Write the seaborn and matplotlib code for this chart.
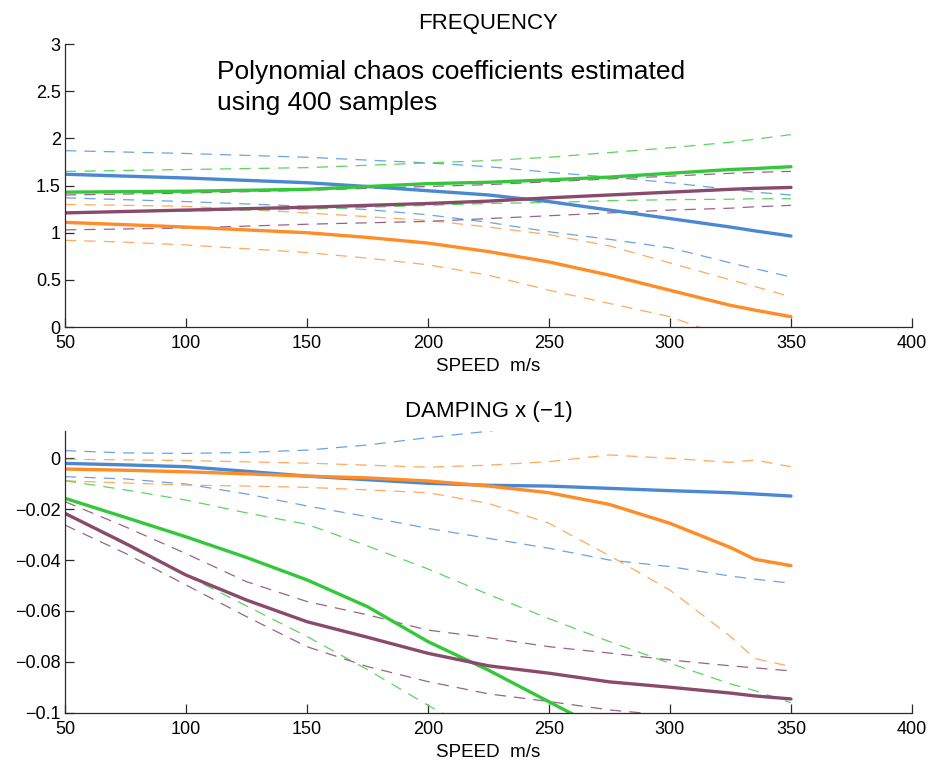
import matplotlib
matplotlib.use("Agg")
import matplotlib.pyplot as plt
import matplotlib.ticker as mticker
import numpy as np
import pandas as pd
import seaborn as sns

# ---------------- data ----------------
speed = [50, 75, 100, 125, 150, 175, 200, 225, 250, 275, 300, 325, 335, 350]
x_ticks = [50, 100, 150, 200, 250, 300, 350, 400]

# FREQUENCY panel: mean (solid) and bounds (dashed)
blue_f_mean = [1.62, 1.60, 1.58, 1.555, 1.53, 1.49, 1.445, 1.40, 1.33, 1.24, 1.15, 1.06, 1.02, 0.965]
blue_f_hi = [1.87, 1.855, 1.84, 1.82, 1.80, 1.77, 1.74, 1.70, 1.64, 1.59, 1.53, 1.46, 1.43, 1.40]
blue_f_lo = [1.37, 1.35, 1.33, 1.305, 1.28, 1.245, 1.19, 1.11, 1.01, 0.93, 0.84, 0.68, 0.62, 0.53]
orange_f_mean = [1.11, 1.085, 1.06, 1.03, 1.00, 0.95, 0.89, 0.80, 0.69, 0.55, 0.39, 0.23, 0.18, 0.11]
orange_f_hi = [1.30, 1.29, 1.28, 1.245, 1.21, 1.17, 1.13, 1.06, 0.98, 0.86, 0.68, 0.50, 0.43, 0.32]
orange_f_lo = [0.92, 0.90, 0.87, 0.83, 0.79, 0.73, 0.66, 0.55, 0.39, 0.25, 0.11, -0.12, -0.20, -0.35]
green_f_mean = [1.43, 1.435, 1.44, 1.45, 1.46, 1.49, 1.52, 1.535, 1.56, 1.59, 1.63, 1.67, 1.68, 1.70]
green_f_hi = [1.65, 1.66, 1.67, 1.68, 1.69, 1.715, 1.74, 1.765, 1.80, 1.85, 1.90, 1.96, 1.99, 2.04]
green_f_lo = [1.21, 1.22, 1.23, 1.24, 1.25, 1.27, 1.29, 1.31, 1.32, 1.34, 1.35, 1.355, 1.36, 1.36]
purple_f_mean = [1.21, 1.225, 1.24, 1.255, 1.27, 1.29, 1.31, 1.335, 1.37, 1.40, 1.43, 1.46, 1.47, 1.48]
purple_f_hi = [1.40, 1.41, 1.42, 1.435, 1.45, 1.47, 1.49, 1.51, 1.54, 1.57, 1.60, 1.63, 1.64, 1.65]
purple_f_lo = [1.03, 1.04, 1.05, 1.07, 1.09, 1.105, 1.12, 1.15, 1.18, 1.21, 1.24, 1.26, 1.275, 1.29]

# DAMPING x (-1) panel (values in units of 1e-3)
blue_d_mean = [-2.1, -2.7, -3.4, -5.2, -7.1, -8.5, -9.9, -10.7, -11.0, -11.9, -12.8, -13.6, -14.1, -14.9]
blue_d_hi = [2.9, 2.0, 1.8, 2.2, 3.1, 5.1, 8.0, 10.5, 14.0, 16.0, 18.0, 19.0, 19.5, 20.0]
blue_d_lo = [-7.3, -8.2, -10.2, -14.1, -18.8, -23.0, -27.6, -31.5, -35.4, -40.0, -42.6, -46.3, -47.5, -49.1]
orange_d_mean = [-4.3, -4.8, -5.4, -6.2, -7.1, -7.8, -9.0, -11.0, -13.6, -18.2, -25.6, -35.1, -39.7, -42.2]
orange_d_hi = [-0.5, -0.7, -1.0, -1.5, -2.0, -2.8, -3.6, -2.8, -1.4, 1.2, -0.1, -1.7, -0.8, -3.4]
orange_d_lo = [-8.9, -9.8, -10.6, -11.0, -11.5, -12.5, -13.6, -17.8, -25.6, -38.3, -51.8, -70.0, -78.6, -81.8]
green_d_mean = [-15.8, -23.3, -30.9, -39.0, -47.8, -58.3, -72.0, -83.2, -95.6, -108.0, -120.0, -130.0, -135.0, -140.0]
green_d_hi = [-8.9, -12.5, -16.5, -21.5, -26.0, -34.5, -43.5, -53.5, -63.0, -72.0, -80.5, -88.6, -91.2, -96.0]
green_d_lo = [-22.0, -34.0, -46.0, -58.0, -70.0, -83.0, -97.0, -110.0, -124.0, -138.0, -152.0, -166.0, -171.0, -180.0]
purple_d_mean = [-21.7, -33.5, -45.9, -55.7, -64.2, -70.3, -76.6, -81.5, -84.4, -87.8, -89.9, -92.2, -93.3, -94.5]
purple_d_hi = [-17.1, -27.0, -37.5, -48.5, -56.3, -61.5, -67.5, -70.5, -74.0, -76.5, -79.2, -81.5, -82.3, -83.5]
purple_d_lo = [-26.3, -37.4, -49.8, -62.2, -74.0, -81.8, -87.7, -92.5, -95.5, -98.8, -101.0, -103.0, -104.0, -106.0]

# ---------------- style ----------------
sns.set_theme(style="white")
plt.rcParams["font.family"] = ["Liberation Sans", "DejaVu Sans"]

solid_col = {"blue": "#4a88d4", "orange": "#ff8c26", "green": "#33c83a", "purple": "#8a4a6c"}
dash_col = {"blue": "#6aa3e4", "orange": "#ffaa5c", "green": "#5ad65e", "purple": "#9c6285"}

fig = plt.figure(figsize=(9.32, 7.65), dpi=100)
ax1 = fig.add_axes([0.0697, 0.5725, 0.9088, 0.3699])
ax2 = fig.add_axes([0.0697, 0.0680, 0.9088, 0.3686])

freq = {
    "blue": (blue_f_mean, blue_f_hi, blue_f_lo),
    "orange": (orange_f_mean, orange_f_hi, orange_f_lo),
    "green": (green_f_mean, green_f_hi, green_f_lo),
    "purple": (purple_f_mean, purple_f_hi, purple_f_lo),
}
damp = {
    "blue": (blue_d_mean, blue_d_hi, blue_d_lo),
    "orange": (orange_d_mean, orange_d_hi, orange_d_lo),
    "green": (green_d_mean, green_d_hi, green_d_lo),
    "purple": (purple_d_mean, purple_d_hi, purple_d_lo),
}


def draw(ax, groups, scale):
    # dashed bounds first, then the means on top
    for name, (mean, hi, lo) in groups.items():
        for bound in (hi, lo):
            sns.lineplot(x=speed, y=np.array(bound) * scale, ax=ax, color=dash_col[name],
                         linewidth=0.9, linestyle=(0, (9, 6.5)), estimator=None, sort=False)
    for name, (mean, hi, lo) in groups.items():
        sns.lineplot(x=speed, y=np.array(mean) * scale, ax=ax, color=solid_col[name],
                     linewidth=2.4, estimator=None, sort=False)


draw(ax1, freq, 1.0)
draw(ax2, damp, 1e-3)

fmt = mticker.FuncFormatter(lambda v, p: f"{v:g}".replace("-", "\u2212"))

for ax in (ax1, ax2):
    ax.set_xlim(50, 400)
    ax.set_xticks(x_ticks)
    ax.xaxis.set_major_formatter(fmt)
    ax.yaxis.set_major_formatter(fmt)
    for s in ("top", "right"):
        ax.spines[s].set_visible(False)
    for s in ("left", "bottom"):
        ax.spines[s].set_color("#2a2a2a")
        ax.spines[s].set_linewidth(0.9)
    ax.tick_params(axis="both", which="major", bottom=True, left=True, top=False, right=False,
                   direction="in", length=6.5, width=0.9, color="#2a2a2a",
                   labelsize=13, labelcolor="black")
    ax.tick_params(axis="y", pad=3)
    ax.tick_params(axis="x", pad=6)
    ax.set_xlabel("SPEED  m/s", fontsize=13.5, labelpad=4, color="black")
    ax.set_ylabel("")
    ax.grid(False)

ax1.set_ylim(0, 3)
ax1.set_yticks([0, 0.5, 1, 1.5, 2, 2.5, 3])
ax1.set_title("FREQUENCY", fontsize=16, pad=11, color="black")
ax1.text(0.1795, 0.945, "Polynomial chaos coefficients estimated\nusing 400 samples",
         transform=ax1.transAxes, ha="left", va="top", fontsize=19, linespacing=1.4,
         color="black")

ax2.set_ylim(-0.1, 0.0106)
ax2.set_yticks([-0.1, -0.08, -0.06, -0.04, -0.02, 0])
ax2.set_title("DAMPING x (\u22121)", fontsize=16, pad=10, color="black")

fig.savefig("out.png", dpi=100)
